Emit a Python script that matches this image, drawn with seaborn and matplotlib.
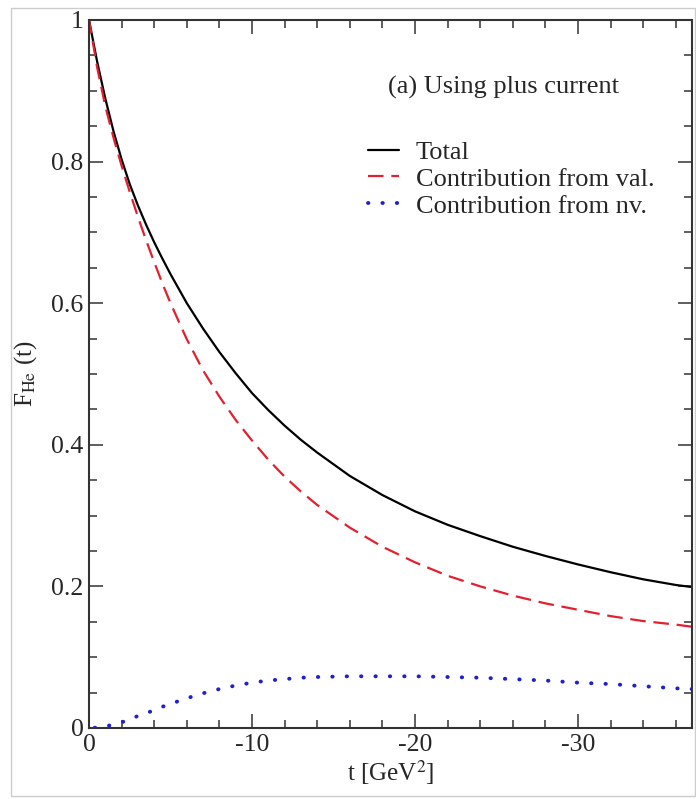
import matplotlib
matplotlib.use('Agg')
import matplotlib.pyplot as plt
from matplotlib.patches import Rectangle
from matplotlib.ticker import MultipleLocator
import numpy as np
import pandas as pd
import seaborn as sns

# momentum transfer t [GeV^2]
t_vals = [0, -0.5, -1, -1.5, -2, -2.5, -3, -3.5, -4, -4.5, -5, -6, -7, -8,
          -9, -10, -11, -12, -13, -14, -16, -18, -20, -22, -24, -26, -28,
          -30, -32, -34, -36, -37]
total = [1.0, 0.941, 0.889, 0.843, 0.803, 0.768, 0.738, 0.711, 0.686, 0.663,
         0.641, 0.600, 0.564, 0.531, 0.501, 0.473, 0.449, 0.427, 0.407, 0.389,
         0.356, 0.329, 0.306, 0.287, 0.271, 0.256, 0.243, 0.231, 0.220, 0.210,
         0.202, 0.199]
val = [1.0, 0.933, 0.878, 0.834, 0.794, 0.757, 0.722, 0.689, 0.658, 0.628,
       0.600, 0.549, 0.505, 0.468, 0.435, 0.406, 0.379, 0.355, 0.334, 0.315,
       0.283, 0.256, 0.234, 0.215, 0.200, 0.187, 0.176, 0.167, 0.158, 0.151,
       0.146, 0.143]
nv = [0.0, 0.0005, 0.002, 0.005, 0.008, 0.012, 0.017, 0.021, 0.025, 0.030,
      0.034, 0.042, 0.049, 0.055, 0.060, 0.064, 0.067, 0.069, 0.071, 0.072,
      0.073, 0.073, 0.073, 0.072, 0.071, 0.069, 0.067, 0.064, 0.062, 0.059,
      0.056, 0.055]

xticks = [0, -10, -20, -30]
xticklabels = ['0', '-10', '-20', '-30']
yticks = [0, 0.2, 0.4, 0.6, 0.8, 1.0]
yticklabels = ['0', '0.2', '0.4', '0.6', '0.8', '1']

sns.set_style('ticks')
plt.rcParams['font.family'] = ['Liberation Serif', 'DejaVu Serif']
plt.rcParams['mathtext.fontset'] = 'stix'

df = pd.DataFrame({'t': t_vals, 'total': total, 'val': val, 'nv': nv})

fig = plt.figure(figsize=(6.96, 7.99), dpi=100)
ax = fig.add_axes([0.1279, 0.0889, 0.8664, 0.8861])

sns.lineplot(data=df, x='t', y='total', ax=ax, color='black', lw=1.6,
             label='Total')
sns.lineplot(data=df, x='t', y='val', ax=ax, color='#e3202f', lw=1.6,
             linestyle=(0, (7, 3.5)), label='Contribution from val.')
sns.lineplot(data=df, x='t', y='nv', ax=ax, color='#2020cc', lw=2.8,
             linestyle=(0, (0.1, 3.6)), dash_capstyle='round',
             label='Contribution from nv.')

ax.set_xlim(0, -37)
ax.set_ylim(0, 1)
ax.set_xticks(xticks)
ax.set_xticklabels(xticklabels)
ax.set_yticks(yticks)
ax.set_yticklabels(yticklabels)
ax.xaxis.set_minor_locator(MultipleLocator(2))
ax.yaxis.set_minor_locator(MultipleLocator(0.05))
ax.tick_params(which='both', direction='in', top=True, right=True,
               width=1.1, color='#333333')
ax.tick_params(which='major', length=10, labelsize=18.5, pad=4)
ax.tick_params(which='minor', length=5.5)
for s in ax.spines.values():
    s.set_linewidth(1.5)
    s.set_color('#333333')

ax.set_xlabel('t [GeV$^2$]', fontsize=18, labelpad=2)
ax.set_ylabel('F$_{\\mathrm{He}}$ (t)', fontsize=18, labelpad=9)

ax.text(0.687, 0.905, '(a) Using plus current', transform=ax.transAxes,
        ha='center', va='center', fontsize=19)

leg = ax.legend(loc='upper left', bbox_to_anchor=(0.462, 0.830), frameon=False,
                fontsize=19, handlelength=1.2, handletextpad=0.62,
                labelspacing=0.13, borderaxespad=0, borderpad=0)

fig.patches.append(Rectangle((11 / 696, 3 / 799), 684 / 696, 788 / 799,
                             transform=fig.transFigure, fill=False,
                             edgecolor='#cccccc', lw=1))

fig.savefig('out.png', dpi=100)
